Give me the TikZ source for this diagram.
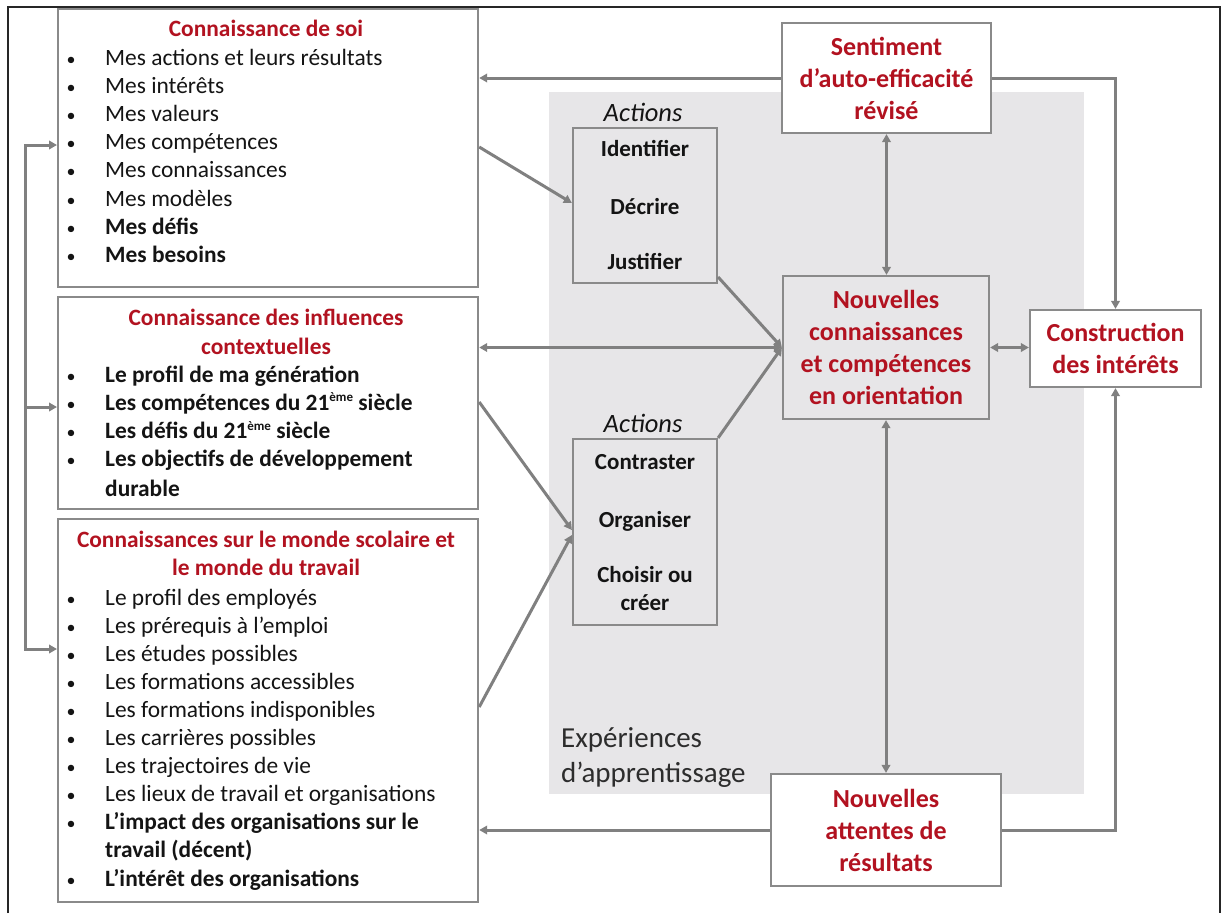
\documentclass[tikz,border=0pt]{standalone}
\usepackage{fontspec}
\setmainfont{Carlito}
\usetikzlibrary{arrows.meta,calc}
\definecolor{darkred}{RGB}{178,18,32}
\definecolor{linegray}{RGB}{128,128,128}
\definecolor{boxgray}{RGB}{138,138,138}
\definecolor{bggray}{RGB}{231,230,232}
\definecolor{txt}{RGB}{20,20,20}
\definecolor{exptxt}{RGB}{45,45,45}
\newcommand{\supeme}{\raisebox{0.75ex}{\fontsize{13}{13}\selectfont ème}}
\begin{document}
\begin{tikzpicture}[x=1pt,y=-1pt,
 box/.style={draw=boxgray, line width=2.2pt, fill=white, inner sep=0pt},
 graybox/.style={draw=boxgray, line width=2.2pt, fill=bggray, inner sep=0pt},
 arr/.style={draw=linegray, line width=3pt, -{Triangle[length=8pt,width=8.5pt]}},
 dblarr/.style={draw=linegray, line width=3pt, {Triangle[length=8pt,width=8.5pt]}-{Triangle[length=8pt,width=8.5pt]}},
 item/.style={anchor=base west, inner sep=0pt, text=txt, font=\fontsize{23.4}{28.2}\selectfont},
 bul/.style={anchor=base, inner sep=0pt, text=txt, font=\fontsize{18}{28}\selectfont},
 ttl/.style={anchor=base, inner sep=0pt, text=darkred, font=\fontsize{23.4}{28.2}\selectfont\bfseries},
 head/.style={box, text=darkred, font=\fontsize{26}{32}\selectfont\bfseries, align=center},
 act/.style={anchor=base, inner sep=0pt, text=txt, font=\fontsize{23}{28}\selectfont\bfseries},
 actlbl/.style={anchor=base, inner sep=0pt, text=txt, font=\fontsize{26.5}{32}\selectfont\itshape},
 exps/.style={anchor=base west, inner sep=0pt, text=exptxt, font=\fontsize{29}{35}\selectfont}
]
\useasboundingbox (0,0) rectangle (1223,913);
\fill[white] (0,0) rectangle (1223,913);
\draw[line width=1.5pt, black!85] (8,913) -- (8,7) -- (1220,7) -- (1220,913);

% grey learning-experience area
\node[fill=bggray, inner sep=0pt, minimum width=535pt, minimum height=702pt, anchor=north west] (bg) at (549,92) {};
\node[exps] (exp1) at (561,747) {Expériences};
\node[exps] (exp2) at (561,782) {d’apprentissage};

% left boxes
\node[box, minimum width=420pt, minimum height=278pt, anchor=north west] (soi) at (57,8) {};
\node[box, minimum width=420pt, minimum height=212pt, anchor=north west] (ci) at (57,296) {};
\node[box, minimum width=420pt, minimum height=383pt, anchor=north west] (sc) at (57,518) {};

% box 1 text
\node[ttl] (t1) at (266,36) {Connaissance de soi};
\foreach \t [count=\i from 0] in {Mes actions et leurs résultats, Mes intérêts, Mes valeurs, Mes compétences, Mes connaissances, Mes modèles, {\bfseries Mes défis}, {\bfseries Mes besoins}}{
  \node[bul] (sb\i) at (71,{65+28.2*\i}) {•};
  \node[item] (si\i) at (105,{65+28.2*\i}) {\t};
}

% box 2 text
\node[ttl] (t2a) at (266,325) {Connaissance des influences};
\node[ttl] (t2b) at (266,354) {contextuelles};
\foreach \t [count=\i from 0] in {Le profil de ma génération, Les compétences du 21\supeme{} siècle, Les défis du 21\supeme{} siècle, Les objectifs de développement}{
  \node[bul] (cb\i) at (71,{382+28.3*\i}) {•};
  \node[item, font=\fontsize{23.4}{28.2}\selectfont\bfseries] (ci\i) at (105,{382+28.3*\i}) {\t};
}
\node[item, font=\fontsize{23.4}{28.2}\selectfont\bfseries] (ci4) at (105,496) {durable};

% box 3 text
\node[ttl] (t3a) at (266,547) {Connaissances sur le monde scolaire et};
\node[ttl] (t3b) at (266,575) {le monde du travail};
\foreach \t [count=\i from 0] in {Le profil des employés, Les prérequis à l’emploi, Les études possibles, Les formations accessibles, Les formations indisponibles, Les carrières possibles, Les trajectoires de vie, Les lieux de travail et organisations, {\bfseries L’impact des organisations sur le}}{
  \node[bul] (mb\i) at (71,{605+28.1*\i}) {•};
  \node[item] (mi\i) at (105,{605+28.1*\i}) {\t};
}
\node[item, font=\fontsize{23.4}{28.2}\selectfont\bfseries] (mi9) at (105,857.9) {travail (décent)};
\node[bul] (mb10) at (71,886) {•};
\node[item, font=\fontsize{23.4}{28.2}\selectfont\bfseries] (mi10) at (105,886) {L’intérêt des organisations};

% action boxes
\node[actlbl] (al1) at (643,121) {Actions};
\node[graybox, minimum width=144pt, minimum height=155pt] (a1) at (645,205.5) {};
\node[act] (a1i) at (645,156) {Identifier};
\node[act] (a1d) at (645,214) {Décrire};
\node[act] (a1j) at (645,269) {Justifier};

\node[actlbl] (al2) at (643,432) {Actions};
\node[graybox, minimum width=144pt, minimum height=186pt] (a2) at (645,532) {};
\node[act] (a2c) at (645,469) {Contraster};
\node[act] (a2o) at (645,527) {Organiser};
\node[act] (a2h) at (645,582) {Choisir ou};
\node[act] (a2r) at (645,610) {créer};

% right boxes
\node[head, minimum width=209pt, minimum height=110pt] (sent) at (886.5,78) {Sentiment\\d’auto-efficacité\\révisé};
\node[head, fill=bggray, minimum width=206pt, minimum height=143pt] (nc) at (886,347.5) {Nouvelles\\connaissances\\et compétences\\en orientation};
\node[head, minimum width=171pt, minimum height=77pt] (cons) at (1115.5,348.5) {Construction\\des intérêts};
\node[head, minimum width=230pt, minimum height=112pt] (att) at (886,830) {Nouvelles\\attentes de\\résultats};

% connectors
\draw[arr] (sent.west) -- (sent.west -| soi.east);
\draw[arr] (sent.east) -| (cons.north);
\draw[dblarr] (sent.south) -- (sent.south |- nc.north);
\draw[dblarr] (nc.west) -- (nc.west -| ci.east);
\draw[dblarr] (nc.east) -- (nc.east -| cons.west);
\draw[dblarr] (nc.south) -- (nc.south |- att.north);
\draw[arr] (att.west) -- (att.west -| sc.east);
\draw[arr] (att.east) -| (cons.south);

\coordinate (L1) at (25,145);
\coordinate (L2) at (25,407);
\coordinate (L3) at (25,649);
\draw[arr] (L3) -- (L1) -- (L1 -| soi.west);
\draw[arr] (L1) -- (L3) -- (L3 -| sc.west);
\draw[arr] (L2) -- (L2 -| ci.west);

\draw[arr] (soi.east |- 0,147) -- (a1.west |- 0,203);
\draw[arr] (a1.east |- 0,277) -- (nc.west);
\draw[arr] (a2.north east) -- (nc.west);
\draw[arr] (ci.east |- 0,402) -- (a2.west |- 0,530);
\draw[arr] (sc.east |- 0,707) -- (a2.west |- 0,535);
\end{tikzpicture}
\end{document}
